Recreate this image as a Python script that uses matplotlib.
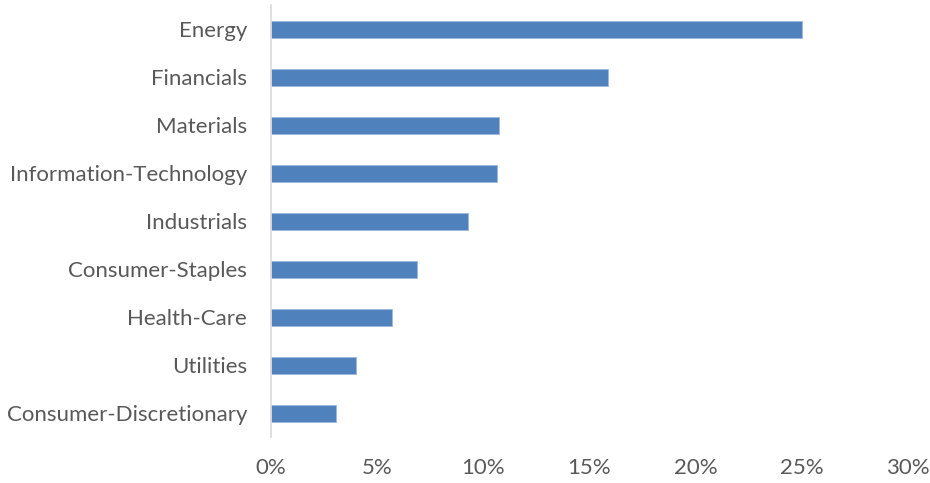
import matplotlib
matplotlib.use("Agg")
import matplotlib.pyplot as plt
from matplotlib.ticker import FuncFormatter

categories = ["Energy", "Financials", "Materials", "Information-Technology",
              "Industrials", "Consumer-Staples", "Health-Care", "Utilities",
              "Consumer-Discretionary"]
values = [25.0, 15.9, 10.74, 10.67, 9.31, 6.90, 5.71, 4.02, 3.07]
xticks = [0, 5, 10, 15, 20, 25, 30]

plt.rcParams['font.family'] = ['Lato', 'DejaVu Sans']

fig = plt.figure(figsize=(9.3, 4.83), dpi=100)
ax = fig.add_axes([0.291, 0.095, 0.685, 0.8946])

y = list(range(len(categories)))
ax.barh(y, values, height=0.355, color="#4F81BD", edgecolor="#9DB8DC", linewidth=0.6)
ax.set_ylim(len(categories) - 0.5, -0.5)
ax.set_xlim(0, 30)
ax.set_yticks(y)
ax.set_yticklabels(categories, fontsize=16, color="#595959")
ax.set_xticks(xticks)
ax.xaxis.set_major_formatter(FuncFormatter(lambda v, p: f"{int(v)}%"))
for lab in ax.get_xticklabels():
    lab.set_fontsize(16)
    lab.set_color("#595959")
ax.tick_params(axis="both", length=0)
ax.tick_params(axis="y", pad=17)
ax.tick_params(axis="x", pad=15)
for s in ["top", "right", "bottom"]:
    ax.spines[s].set_visible(False)
ax.spines["left"].set_color("#D9D9D9")
ax.spines["left"].set_linewidth(1.2)

fig.savefig("out.png", dpi=100)
